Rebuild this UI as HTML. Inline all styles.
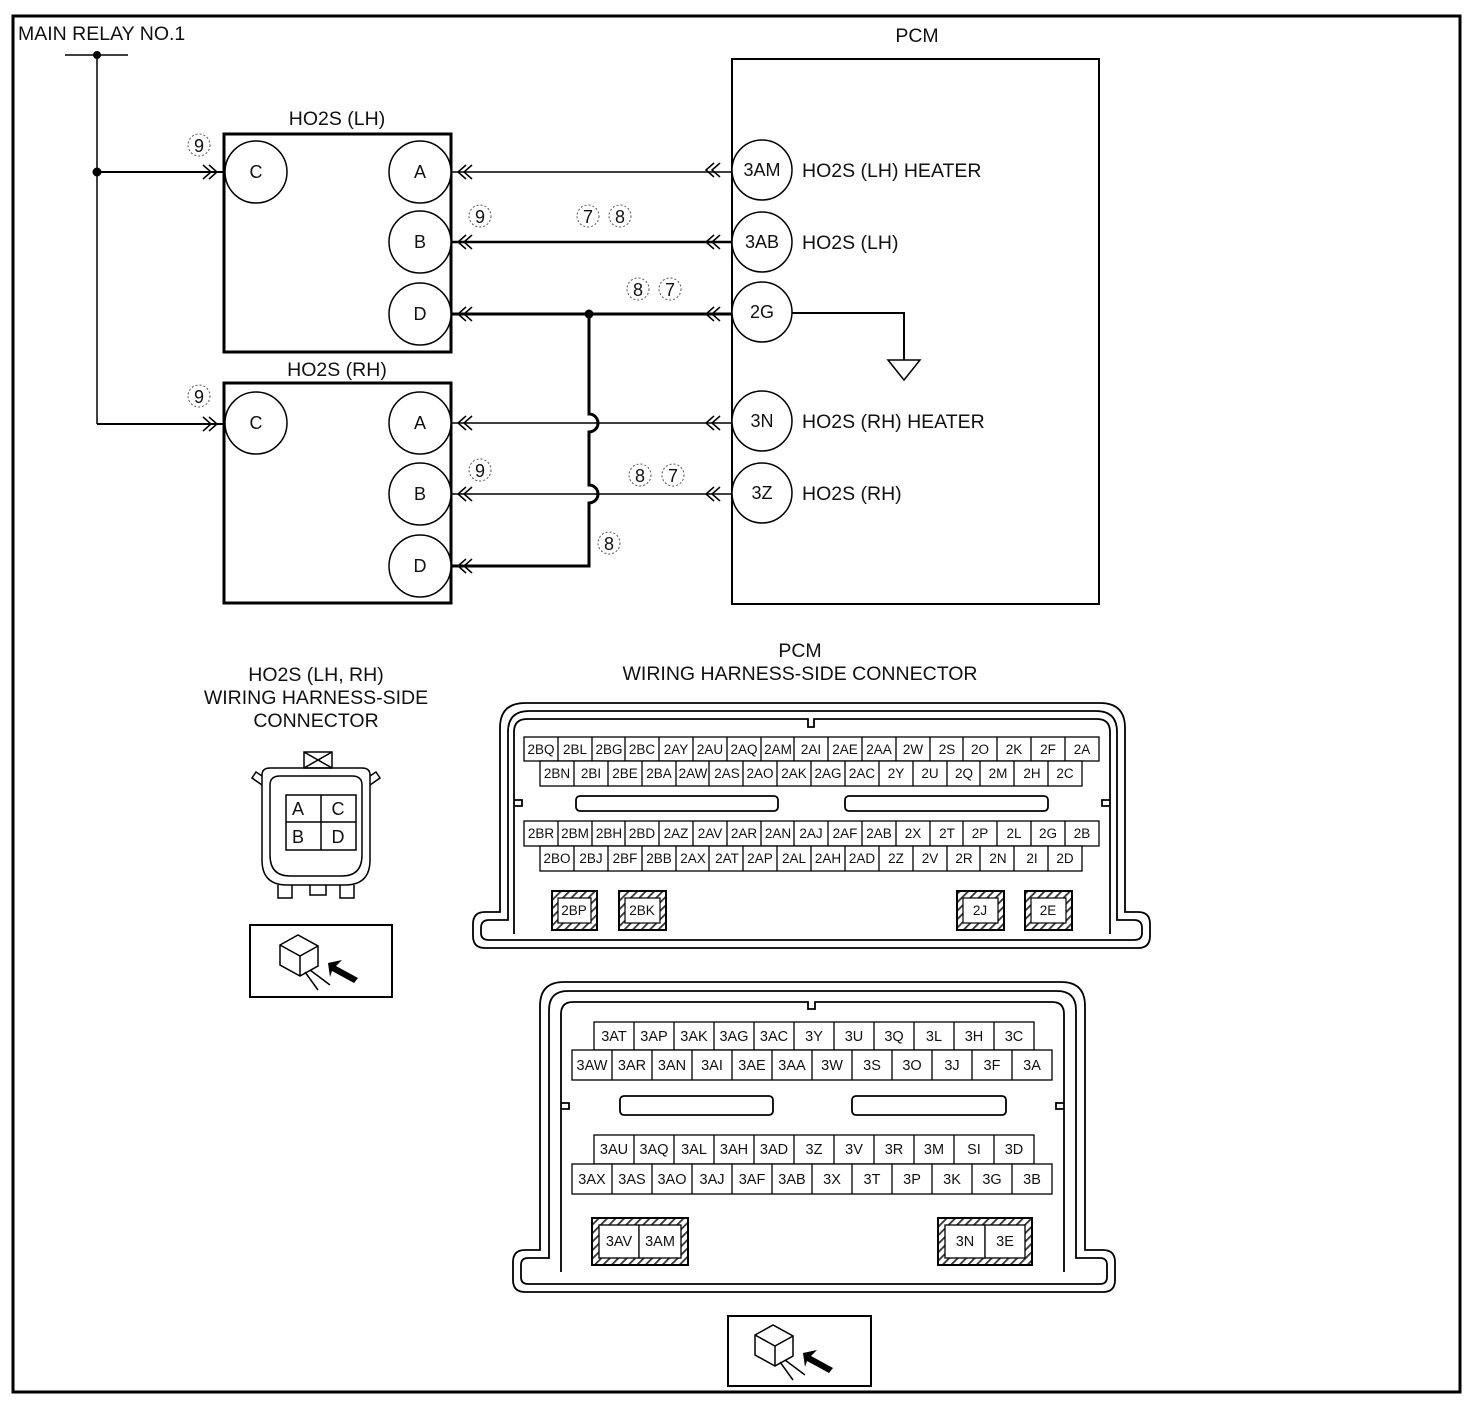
<!DOCTYPE html>
<html><head><meta charset="utf-8"><style>
html,body{margin:0;padding:0;background:#fff}
svg{display:block}
text{font-family:"Liberation Sans",sans-serif;fill:#111}
.t{font-size:19.5px}
.c{font-size:14.5px;text-anchor:middle}
.n{font-size:18px;text-anchor:middle}
.m{font-size:19.5px;text-anchor:middle}
</style></head><body>
<svg width="1470" height="1406" viewBox="0 0 1470 1406" xmlns="http://www.w3.org/2000/svg">
<defs>
<pattern id="h" width="6" height="6" patternUnits="userSpaceOnUse" patternTransform="rotate(45)">
<rect width="6" height="6" fill="#fff"/><rect width="1.8" height="6" fill="#333"/></pattern>
</defs>
<rect x="13" y="16" width="1447" height="1376" fill="none" stroke="#000" stroke-width="3"/>

<!-- main relay -->
<text x="18" y="40" class="t">MAIN RELAY NO.1</text>
<line x1="65" y1="55" x2="128" y2="55" stroke="#000" stroke-width="1.5"/>
<circle cx="97" cy="55" r="4"/>
<line x1="97" y1="55" x2="97" y2="424" stroke="#000" stroke-width="1.5"/>
<circle cx="97" cy="172" r="4.5"/>
<line x1="97" y1="172" x2="224" y2="172" stroke="#000" stroke-width="2"/>
<line x1="97" y1="424" x2="224" y2="424" stroke="#000" stroke-width="2"/>
<g fill="none" stroke="#000" stroke-width="1.5">
<polyline points="203,165 211,172 203,179"/><polyline points="209,165 217,172 209,179"/>
<polyline points="203,417 211,424 203,431"/><polyline points="209,417 217,424 209,431"/>
</g>

<!-- HO2S LH -->
<text x="337" y="125" class="m">HO2S (LH)</text>
<rect x="224" y="134" width="227" height="218" fill="none" stroke="#000" stroke-width="3"/>
<text x="337" y="376" class="m">HO2S (RH)</text>
<rect x="224" y="383" width="227" height="220" fill="none" stroke="#000" stroke-width="3"/>
<g fill="#fff" stroke="#000" stroke-width="1.5">
<circle cx="256" cy="172" r="31"/><circle cx="420" cy="172" r="31"/><circle cx="420" cy="242" r="31"/><circle cx="420" cy="314" r="31"/>
<circle cx="256" cy="423" r="31"/><circle cx="420" cy="423" r="31"/><circle cx="420" cy="494" r="31"/><circle cx="420" cy="566" r="31"/>
</g>
<g class="n">
<text x="256" y="178">C</text><text x="420" y="178">A</text><text x="420" y="248">B</text><text x="420" y="320">D</text>
<text x="256" y="429">C</text><text x="420" y="429">A</text><text x="420" y="500">B</text><text x="420" y="572">D</text>
</g>

<!-- PCM -->
<text x="917" y="42" class="m">PCM</text>
<rect x="732" y="59" width="367" height="545" fill="none" stroke="#000" stroke-width="2"/>
<g fill="#fff" stroke="#000" stroke-width="1.5">
<circle cx="762" cy="170" r="30"/><circle cx="762" cy="242" r="30"/><circle cx="762" cy="312" r="30"/><circle cx="762" cy="421" r="30"/><circle cx="762" cy="493" r="30"/>
</g>
<g class="n">
<text x="762" y="176">3AM</text><text x="762" y="248">3AB</text><text x="762" y="318">2G</text><text x="762" y="427">3N</text><text x="762" y="499">3Z</text>
</g>
<g class="t">
<text x="802" y="177">HO2S (LH) HEATER</text>
<text x="802" y="249">HO2S (LH)</text>
<text x="802" y="428">HO2S (RH) HEATER</text>
<text x="802" y="500">HO2S (RH)</text>
</g>
<polyline points="792,313 904,313 904,360" fill="none" stroke="#000" stroke-width="2"/>
<polygon points="888,360 920,360 904,380" fill="#fff" stroke="#000" stroke-width="1.5"/>

<!-- wires -->
<g fill="none" stroke="#000">
<line x1="451" y1="172" x2="732" y2="172" stroke-width="1.5"/>
<line x1="451" y1="242" x2="732" y2="242" stroke-width="2.5"/>
<line x1="451" y1="314" x2="732" y2="314" stroke-width="3"/>
<line x1="451" y1="423" x2="732" y2="423" stroke-width="1.5"/>
<line x1="451" y1="494" x2="732" y2="494" stroke-width="1.5"/>
<path d="M589 314 V414 A9 9 0 0 1 589 432 V485 A9 9 0 0 1 589 503 V566 H451" stroke-width="3"/>
</g>
<circle cx="589" cy="314" r="4.5"/>
<g fill="none" stroke="#000" stroke-width="1.5">
<polyline points="466,165 458,172 466,179"/><polyline points="472,165 464,172 472,179"/>
<polyline points="466,235 458,242 466,249"/><polyline points="472,235 464,242 472,249"/>
<polyline points="466,307 458,314 466,321"/><polyline points="472,307 464,314 472,321"/>
<polyline points="466,416 458,423 466,430"/><polyline points="472,416 464,423 472,430"/>
<polyline points="466,487 458,494 466,501"/><polyline points="472,487 464,494 472,501"/>
<polyline points="466,559 458,566 466,573"/><polyline points="472,559 464,566 472,573"/>
<polyline points="714,163 706,170 714,177"/><polyline points="720,163 712,170 720,177"/>
<polyline points="714,235 706,242 714,249"/><polyline points="720,235 712,242 720,249"/>
<polyline points="714,307 706,314 714,321"/><polyline points="720,307 712,314 720,321"/>
<polyline points="714,416 706,423 714,430"/><polyline points="720,416 712,423 720,430"/>
<polyline points="714,487 706,494 714,501"/><polyline points="720,487 712,494 720,501"/>
</g>
<!-- circled numbers -->
<g fill="none" stroke="#555" stroke-width="1" stroke-dasharray="2 2">
<circle cx="199" cy="145" r="11"/><circle cx="480" cy="216" r="11"/><circle cx="199" cy="396" r="11"/><circle cx="480" cy="470" r="11"/>
<circle cx="588" cy="216" r="11"/><circle cx="620" cy="216" r="11"/><circle cx="638" cy="289" r="11"/><circle cx="670" cy="289" r="11"/>
<circle cx="640" cy="475" r="11"/><circle cx="673" cy="475" r="11"/><circle cx="609" cy="543" r="11"/>
</g>
<g class="n">
<text x="199" y="152">9</text><text x="480" y="223">9</text><text x="199" y="403">9</text><text x="480" y="477">9</text>
<text x="588" y="223">7</text><text x="620" y="223">8</text><text x="638" y="296">8</text><text x="670" y="296">7</text>
<text x="640" y="482">8</text><text x="673" y="482">7</text><text x="609" y="550">8</text>
</g>

<!-- HO2S connector -->
<g class="m">
<text x="316" y="681">HO2S (LH, RH)</text>
<text x="316" y="704">WIRING HARNESS-SIDE</text>
<text x="316" y="727">CONNECTOR</text>
</g>
<g fill="none" stroke="#000" stroke-width="1.5">
<rect x="304" y="752" width="28" height="16"/>
<path d="M304 752 L332 768 M332 752 L304 768"/>
<path d="M262 775 Q262 768 270 768 H362 Q370 768 370 775 V860 Q370 885 345 885 H287 Q262 885 262 860 Z"/>
<path d="M270 785 Q270 776 280 776 H352 Q362 776 362 785 V855 Q362 876 342 876 H290 Q270 876 270 855 Z"/>
<path d="M262 785 L252 778 L256 772 L262 776 M370 785 L380 778 L376 772 L370 776"/>
<path d="M278 885 V898 H292 V885 M310 885 V895 H326 V885 M340 885 V898 H354 V885"/>
<rect x="286" y="795" width="70" height="55"/>
<line x1="321" y1="795" x2="321" y2="850"/><line x1="286" y1="822" x2="356" y2="822"/>
</g>
<g class="n"><text x="298" y="815">A</text><text x="338" y="815">C</text><text x="298" y="843">B</text><text x="338" y="843">D</text></g>
<rect x="250" y="925" width="142" height="72" fill="none" stroke="#000" stroke-width="2"/>
<g fill="none" stroke="#000" stroke-width="1.5">
<path d="M280 945 L298 935 L318 946 V966 L300 976 L280 965 Z M280 945 L300 956 L318 946 M300 956 V976"/>
<path d="M305 972 L318 990 M310 970 L330 985"/>
</g>
<polygon points="328,963 342,960 336,966 358,978 354,983 332,971 330,977" fill="#000"/>

<!-- PCM connector 2 -->
<g class="m">
<text x="800" y="657">PCM</text>
<text x="800" y="680">WIRING HARNESS-SIDE CONNECTOR</text>
</g>
<g fill="none" stroke="#000" stroke-width="1.8">
<path d="M500 912 V728 Q500 703 525 703 H1100 Q1125 703 1125 728 V912 H1138 Q1150 912 1150 924 V936 Q1150 948 1138 948 H485 Q473 948 473 936 V924 Q473 912 485 912 Z"/>
<path d="M508 920 V732 Q508 711 529 711 H1096 Q1117 711 1117 732 V920 H1134 Q1142 920 1142 928 V933 Q1142 940 1134 940 H489 Q481 940 481 933 V928 Q481 920 489 920 Z"/>
<path d="M514 934 V732 Q514 719 527 719 H808 V727 H814 V719 H1097 Q1110 719 1110 732 V934"/>
<path d="M514 800 H522 V806 H514 M1110 800 H1102 V806 H1110"/>
<rect x="576" y="796" width="202" height="15" rx="4"/>
<rect x="845" y="796" width="203" height="15" rx="4"/>
</g>
<g fill="#fff" stroke="#000" stroke-width="1.3">
<rect x="524" y="737" width="575" height="24"/><rect x="540" y="761" width="542" height="25"/>
<rect x="524" y="821" width="575" height="25"/><rect x="540" y="846" width="542" height="25"/>
</g>
<path stroke="#000" stroke-width="1.3" d="M558 737v24M592 737v24M625 737v24M659 737v24M693 737v24M727 737v24M761 737v24M794 737v24M828 737v24M862 737v24M896 737v24M930 737v24M963 737v24M997 737v24M1031 737v24M1065 737v24
M574 761v25M608 761v25M642 761v25M676 761v25M709 761v25M743 761v25M777 761v25M811 761v25M845 761v25M879 761v25M913 761v25M947 761v25M980 761v25M1014 761v25M1048 761v25
M558 821v25M592 821v25M625 821v25M659 821v25M693 821v25M727 821v25M761 821v25M794 821v25M828 821v25M862 821v25M896 821v25M930 821v25M963 821v25M997 821v25M1031 821v25M1065 821v25
M574 846v25M608 846v25M642 846v25M676 846v25M709 846v25M743 846v25M777 846v25M811 846v25M845 846v25M879 846v25M913 846v25M947 846v25M980 846v25M1014 846v25M1048 846v25"/>
<g class="c" style="font-size:13.5px">
<text x="541" y="754">2BQ</text><text x="575" y="754">2BL</text><text x="609" y="754">2BG</text><text x="642" y="754">2BC</text><text x="676" y="754">2AY</text><text x="710" y="754">2AU</text><text x="744" y="754">2AQ</text><text x="778" y="754">2AM</text><text x="811" y="754">2AI</text><text x="845" y="754">2AE</text><text x="879" y="754">2AA</text><text x="913" y="754">2W</text><text x="947" y="754">2S</text><text x="980" y="754">2O</text><text x="1014" y="754">2K</text><text x="1048" y="754">2F</text><text x="1082" y="754">2A</text>
<text x="557" y="778">2BN</text><text x="591" y="778">2BI</text><text x="625" y="778">2BE</text><text x="659" y="778">2BA</text><text x="693" y="778">2AW</text><text x="727" y="778">2AS</text><text x="760" y="778">2AO</text><text x="794" y="778">2AK</text><text x="828" y="778">2AG</text><text x="862" y="778">2AC</text><text x="896" y="778">2Y</text><text x="930" y="778">2U</text><text x="964" y="778">2Q</text><text x="998" y="778">2M</text><text x="1032" y="778">2H</text><text x="1065" y="778">2C</text>
<text x="541" y="838">2BR</text><text x="575" y="838">2BM</text><text x="609" y="838">2BH</text><text x="642" y="838">2BD</text><text x="676" y="838">2AZ</text><text x="710" y="838">2AV</text><text x="744" y="838">2AR</text><text x="778" y="838">2AN</text><text x="811" y="838">2AJ</text><text x="845" y="838">2AF</text><text x="879" y="838">2AB</text><text x="913" y="838">2X</text><text x="947" y="838">2T</text><text x="980" y="838">2P</text><text x="1014" y="838">2L</text><text x="1048" y="838">2G</text><text x="1082" y="838">2B</text>
<text x="557" y="863">2BO</text><text x="591" y="863">2BJ</text><text x="625" y="863">2BF</text><text x="659" y="863">2BB</text><text x="693" y="863">2AX</text><text x="727" y="863">2AT</text><text x="760" y="863">2AP</text><text x="794" y="863">2AL</text><text x="828" y="863">2AH</text><text x="862" y="863">2AD</text><text x="896" y="863">2Z</text><text x="930" y="863">2V</text><text x="964" y="863">2R</text><text x="998" y="863">2N</text><text x="1032" y="863">2I</text><text x="1065" y="863">2D</text>
</g>
<g stroke="#000" stroke-width="2">
<rect x="552" y="891" width="45" height="39" fill="url(#h)"/><rect x="619" y="891" width="47" height="39" fill="url(#h)"/>
<rect x="957" y="891" width="47" height="39" fill="url(#h)"/><rect x="1025" y="891" width="47" height="39" fill="url(#h)"/>
</g>
<g fill="#fff" stroke="#000" stroke-width="1.2">
<rect x="558" y="898" width="33" height="25"/><rect x="625" y="898" width="35" height="25"/><rect x="963" y="898" width="35" height="25"/><rect x="1031" y="898" width="35" height="25"/>
</g>
<g class="c" style="font-size:13.5px"><text x="574" y="915">2BP</text><text x="642" y="915">2BK</text><text x="980" y="915">2J</text><text x="1048" y="915">2E</text></g>

<!-- PCM connector 3 -->
<g fill="none" stroke="#000" stroke-width="1.8">
<path d="M540 1250 V1006 Q540 982 564 982 H1061 Q1085 982 1085 1006 V1250 H1103 Q1115 1250 1115 1262 V1280 Q1115 1292 1103 1292 H525 Q513 1292 513 1280 V1262 Q513 1250 525 1250 Z"/>
<path d="M549 1258 V1010 Q549 991 568 991 H1057 Q1076 991 1076 1010 V1258 H1100 Q1107 1258 1107 1265 V1277 Q1107 1284 1100 1284 H528 Q521 1284 521 1277 V1265 Q521 1258 528 1258 Z"/>
<path d="M561 1272 V1014 Q561 1002 573 1002 H808 V1009 H815 V1002 H1052 Q1064 1002 1064 1014 V1272"/>
<path d="M561 1103 H569 V1109 H561 M1064 1103 H1056 V1109 H1064"/>
<rect x="620" y="1096" width="153" height="19" rx="4"/>
<rect x="852" y="1096" width="154" height="19" rx="4"/>
</g>
<g fill="#fff" stroke="#000" stroke-width="1.3">
<rect x="594" y="1022" width="440" height="28"/><rect x="572" y="1050" width="480" height="30"/>
<rect x="594" y="1135" width="440" height="29"/><rect x="572" y="1164" width="480" height="30"/>
</g>
<path stroke="#000" stroke-width="1.3" d="M634 1022v28M674 1022v28M714 1022v28M754 1022v28M794 1022v28M834 1022v28M874 1022v28M914 1022v28M954 1022v28M994 1022v28
M612 1050v30M652 1050v30M692 1050v30M732 1050v30M772 1050v30M812 1050v30M852 1050v30M892 1050v30M932 1050v30M972 1050v30M1012 1050v30
M634 1135v29M674 1135v29M714 1135v29M754 1135v29M794 1135v29M834 1135v29M874 1135v29M914 1135v29M954 1135v29M994 1135v29
M612 1164v30M652 1164v30M692 1164v30M732 1164v30M772 1164v30M812 1164v30M852 1164v30M892 1164v30M932 1164v30M972 1164v30M1012 1164v30"/>
<g class="c">
<text x="614" y="1041">3AT</text><text x="654" y="1041">3AP</text><text x="694" y="1041">3AK</text><text x="734" y="1041">3AG</text><text x="774" y="1041">3AC</text><text x="814" y="1041">3Y</text><text x="854" y="1041">3U</text><text x="894" y="1041">3Q</text><text x="934" y="1041">3L</text><text x="974" y="1041">3H</text><text x="1014" y="1041">3C</text>
<text x="592" y="1070">3AW</text><text x="632" y="1070">3AR</text><text x="672" y="1070">3AN</text><text x="712" y="1070">3AI</text><text x="752" y="1070">3AE</text><text x="792" y="1070">3AA</text><text x="832" y="1070">3W</text><text x="872" y="1070">3S</text><text x="912" y="1070">3O</text><text x="952" y="1070">3J</text><text x="992" y="1070">3F</text><text x="1032" y="1070">3A</text>
<text x="614" y="1154">3AU</text><text x="654" y="1154">3AQ</text><text x="694" y="1154">3AL</text><text x="734" y="1154">3AH</text><text x="774" y="1154">3AD</text><text x="814" y="1154">3Z</text><text x="854" y="1154">3V</text><text x="894" y="1154">3R</text><text x="934" y="1154">3M</text><text x="974" y="1154">SI</text><text x="1014" y="1154">3D</text>
<text x="592" y="1184">3AX</text><text x="632" y="1184">3AS</text><text x="672" y="1184">3AO</text><text x="712" y="1184">3AJ</text><text x="752" y="1184">3AF</text><text x="792" y="1184">3AB</text><text x="832" y="1184">3X</text><text x="872" y="1184">3T</text><text x="912" y="1184">3P</text><text x="952" y="1184">3K</text><text x="992" y="1184">3G</text><text x="1032" y="1184">3B</text>
</g>
<g stroke="#000" stroke-width="2">
<rect x="592" y="1218" width="96" height="47" fill="url(#h)"/><rect x="938" y="1218" width="94" height="47" fill="url(#h)"/>
</g>
<g fill="#fff" stroke="#000" stroke-width="1.3">
<rect x="599" y="1225" width="40" height="33"/><rect x="639" y="1225" width="42" height="33"/>
<rect x="945" y="1225" width="40" height="33"/><rect x="985" y="1225" width="40" height="33"/>
</g>
<g class="c"><text x="619" y="1246">3AV</text><text x="660" y="1246">3AM</text><text x="965" y="1246">3N</text><text x="1005" y="1246">3E</text></g>

<rect x="728" y="1316" width="143" height="70" fill="none" stroke="#000" stroke-width="2"/>
<g fill="none" stroke="#000" stroke-width="1.5">
<path d="M755 1335 L773 1325 L793 1336 V1356 L775 1366 L755 1355 Z M755 1335 L775 1346 L793 1336 M775 1346 V1366"/>
<path d="M780 1362 L793 1380 M785 1360 L805 1375"/>
</g>
<polygon points="803,1353 817,1350 811,1356 833,1368 829,1373 807,1361 805,1367" fill="#000"/>
</svg>
</body></html>
